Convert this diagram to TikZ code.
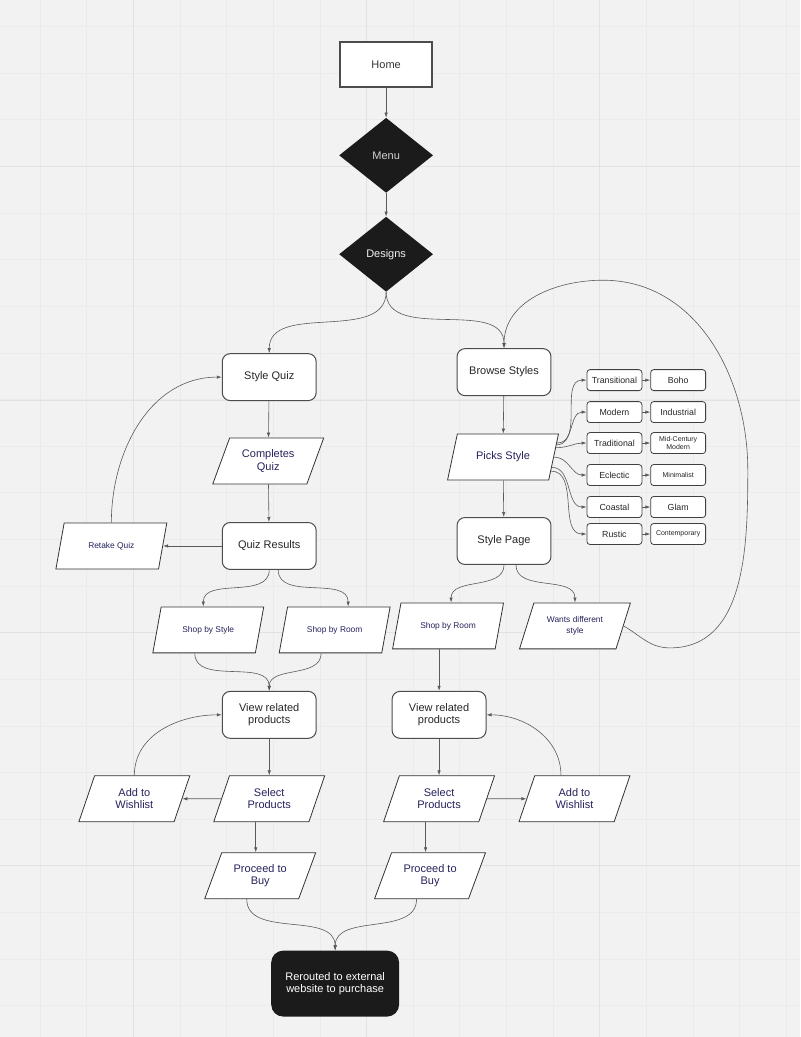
\documentclass[tikz,border=0pt]{standalone}
\usepackage{fontspec}
\setmainfont{Liberation Sans}
\usepackage{tikz}
\usetikzlibrary{arrows, arrows.meta}
\usetikzlibrary{graphs}
\usetikzlibrary{shapes.geometric,calc,positioning}
\definecolor{bggray}{HTML}{F2F2F2}
\definecolor{gridminor}{HTML}{EBEBEB}
\definecolor{gridmajor}{HTML}{E2E2E2}
\definecolor{inkfill}{HTML}{1B1B1B}
\definecolor{navytext}{HTML}{25225C}
\definecolor{linegray}{HTML}{5A5A5A}
\tikzstyle{arrow}=[->, draw=linegray, line width=0.6pt]
\tikzset{
    pagebox/.style={rectangle, draw=black!70, line width=1.8pt, fill=white, text=black!80,
         minimum width=92pt, minimum height=45pt, font=\fontsize{11}{12.5}\selectfont},
    choicebox/.style={diamond, fill=inkfill, inner sep=0pt, minimum width=94pt, minimum height=75pt,
         font=\fontsize{11}{12.5}\selectfont},
    stepbox/.style={rectangle, rounded corners=8pt, draw=black!70, line width=1pt, fill=white,
         text=black!85, align=center, minimum width=94pt, minimum height=47pt,
         font=\fontsize{11}{12.5}\selectfont},
    iobox/.style={trapezium, trapezium left angle=60, trapezium right angle=120,
         trapezium stretches body, draw=black!80, line width=0.8pt, fill=white, text=navytext,
         align=center, inner xsep=0pt, minimum width=111pt, minimum height=46pt,
         font=\fontsize{11}{12.5}\selectfont},
    iobox small/.style={iobox, font=\fontsize{8.4}{10.5}\selectfont},
    tagbox/.style={rectangle, rounded corners=3pt, draw=black!75, line width=0.8pt, fill=white,
         text=black!85, align=center, inner sep=1pt, minimum width=55pt, minimum height=21pt,
         font=\fontsize{8.8}{9}\selectfont},
    tagbox tiny/.style={tagbox, font=\fontsize{7}{8}\selectfont},
    exitbox/.style={rectangle, rounded corners=12pt, fill=inkfill, text=white, align=center,
         minimum width=128pt, minimum height=66pt, font=\fontsize{11}{12.5}\selectfont}
}

\begin{document}
\begin{tikzpicture}[x=1pt, y=1pt, >={Latex[length=5pt,width=3.4pt]}, new set=import nodes]
 % canvas and grid
 \fill[bggray] (0,0) rectangle (800,-1037);
 \foreach \k in {0,...,16} \draw[gridminor, line width=0.6pt] ({39.67+46.667*\k},0) -- ++(0,-1037);
 \foreach \k in {0,...,21} \draw[gridminor, line width=0.6pt] (0,{-26-46.667*\k}) -- ++(800,0);
 \foreach \x in {133.3,366.7,600} \draw[gridmajor, line width=0.9pt] (\x,0) -- ++(0,-1037);
 \foreach \y in {166,400,633,866} \draw[gridmajor, line width=0.9pt] (0,-\y) -- ++(800,0);
 \useasboundingbox (0,0) rectangle (800,-1037);

 \begin{scope}[nodes={set=import nodes}]

      \node [pagebox] (home) at (386,-64) {Home};
      \node [choicebox, text=white!82!black] (menu) at (386,-155) {Menu};
      \node [choicebox, text=white!95!black] (designs) at (386,-254) {Designs};

      %%%%%%%% quiz side %%%%%%%%%%%%%%%%%%%%%%%%%%%
      \node [stepbox] (quiz) at (269,-377) {Style Quiz};
      \node [iobox] (quiz_done) at (268,-461) {Completes\\Quiz};
      \node [stepbox] (quiz_res) at (269,-546) {Quiz Results};
      \node [iobox small] (retake) at (111,-546) {Retake Quiz};
      \node [iobox small] (shop_style) at (208,-630) {Shop by Style};
      \node [iobox small] (shop_room_l) at (334.5,-630) {Shop by Room};
      \node [stepbox] (view_l) at (269,-715) {View related\\products};
      \node [iobox] (select_l) at (269,-799) {Select\\Products};
      \node [iobox] (wish_l) at (134,-799) {Add to\\Wishlist};
      \node [iobox] (buy_l) at (260,-876) {Proceed to\\Buy};

      %%%%%%%% browse side %%%%%%%%%%%%%%%%%%%%%%%%%
      \node [stepbox] (browse) at (504,-372) {Browse Styles};
      \node [iobox] (picks) at (503,-457) {Picks Style};
      \node [stepbox] (style_page) at (504,-541) {Style Page};
      \node [iobox small] (shop_room_r) at (448,-626) {Shop by Room};
      \node [iobox small] (wants) at (575,-626) {Wants different\\style};
      \node [stepbox] (view_r) at (439,-715) {View related\\products};
      \node [iobox] (select_r) at (439,-799) {Select\\Products};
      \node [iobox] (wish_r) at (574.5,-799) {Add to\\Wishlist};
      \node [iobox] (buy_r) at (430,-876) {Proceed to\\Buy};

      % style tags
      \node [tagbox] (st_trans) at (614.5,-380) {Transitional};
      \node [tagbox, right=8pt of st_trans] (sub_trans) {Boho};
      \node [tagbox] (st_mod) at (614.5,-412) {Modern};
      \node [tagbox, right=8pt of st_mod] (sub_mod) {Industrial};
      \node [tagbox] (st_trad) at (614.5,-443) {Traditional};
      \node [tagbox tiny, right=8pt of st_trad] (sub_trad) {Mid-Century\\Modern};
      \node [tagbox] (st_ecl) at (614.5,-475) {Eclectic};
      \node [tagbox tiny, right=8pt of st_ecl] (sub_ecl) {Minimalist};
      \node [tagbox] (st_coast) at (614.5,-507) {Coastal};
      \node [tagbox, right=8pt of st_coast] (sub_coast) {Glam};
      \node [tagbox] (st_rust) at (614.5,-534) {Rustic};
      \node [tagbox tiny, right=8pt of st_rust] (sub_rust) {Contemporary};

      \node [exitbox] (rerouted) at (335,-984) {Rerouted to external\\website to purchase};

  \end{scope}

 \graph [edges={draw=linegray, line width=0.6pt}] {
    (import nodes);

    home -> menu -> designs,
    quiz -> quiz_done -> quiz_res -> retake,
    browse -> picks -> style_page,
    view_l -> select_l -> wish_l,
    view_r -> select_r -> wish_r,
    st_trans -> sub_trans, st_mod -> sub_mod, st_trad -> sub_trad,
    st_ecl -> sub_ecl, st_coast -> sub_coast, st_rust -> sub_rust,
    };

 % curved links
 \draw[arrow] (designs.south) to[out=-90,in=90] (quiz.north);
 \draw[arrow] (designs.south) to[out=-90,in=90] (browse.north);
 \draw[arrow] (retake.north) to[out=90,in=180] (quiz.west);
 \draw[arrow] (quiz_res.south) to[out=-90,in=90] ([xshift=-5pt]shop_style.north);
 \draw[arrow] ([xshift=9pt]quiz_res.south) to[out=-90,in=90] ([xshift=13.5pt]shop_room_l.north);
 \draw[arrow] ([xshift=-13.5pt]shop_style.south) to[out=-90,in=90] (view_l.north);
 \draw[arrow] ([xshift=-13.5pt]shop_room_l.south) to[out=-90,in=90] (view_l.north);
 \draw[arrow] (wish_l.north) to[out=90,in=180] (view_l.west);
 \draw[arrow] ([xshift=-13.5pt]select_l.south) -- ([xshift=-13.5pt]select_l.south |- buy_l.north);

 \draw[arrow] ($(picks.top right corner)!0.2!(picks.bottom right corner)$) to[out=0,in=180] (st_trans.west);
 \draw[arrow] ($(picks.top right corner)!0.24!(picks.bottom right corner)$) to[out=0,in=180] (st_mod.west);
 \draw[arrow] ($(picks.top right corner)!0.3!(picks.bottom right corner)$) to[out=0,in=180] (st_trad.west);
 \draw[arrow] ($(picks.top right corner)!0.5!(picks.bottom right corner)$) to[out=0,in=180] (st_ecl.west);
 \draw[arrow] ($(picks.top right corner)!0.72!(picks.bottom right corner)$) to[out=0,in=180] (st_coast.west);
 \draw[arrow] ($(picks.top right corner)!0.8!(picks.bottom right corner)$) to[out=0,in=180] (st_rust.west);

 \draw[arrow] (style_page.south) to[out=-90,in=90] ([xshift=3pt]shop_room_r.north);
 \draw[arrow] ([xshift=12pt]style_page.south) to[out=-90,in=90] (wants.north);
 \draw[arrow] (view_r.north |- shop_room_r.south) -- (view_r.north);
 \draw[arrow] ([xshift=-13.5pt]wish_r.north) to[out=90,in=0] (view_r.east);
 \draw[arrow] ([xshift=-13.5pt]select_r.south) -- ([xshift=-13.5pt]select_r.south |- buy_r.north);

 % back to browsing
 \coordinate (loop_b) at (670,-648);
 \coordinate (loop_r) at (748,-470);
 \coordinate (loop_t) at (603,-280);
 \draw[arrow] (wants.east) to[out=-30,in=180] (loop_b) to[out=0,in=-90] (loop_r)
      to[out=90,in=0] (loop_t) to[out=180,in=90] (browse.north);

 % checkout
 \draw[arrow] ([xshift=-13.5pt]buy_l.south) to[out=-90,in=90] (rerouted.north);
 \draw[arrow] ([xshift=-13.5pt]buy_r.south) to[out=-90,in=90] (rerouted.north);

\end{tikzpicture}
\end{document}
